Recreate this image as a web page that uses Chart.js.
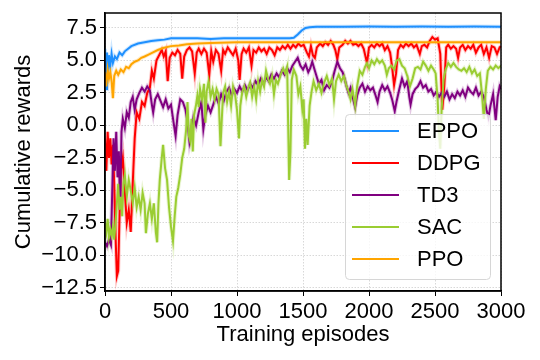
<!DOCTYPE html>
<html>
<head>
<meta charset="utf-8">
<script src="https://cdn.jsdelivr.net/npm/chart.js@4.4.1/dist/chart.umd.min.js"></script>
<style>
  html, body { margin: 0; padding: 0; background: #fff; }
</style>
</head>
<body>
<canvas id="myChart" width="540" height="360"></canvas>
<script>
// valores (episódio, recompensa acumulada)
const eppoEp = [0, 8, 15, 22, 30, 40, 50, 60, 75, 90, 110, 130, 150, 175, 200, 250, 300, 350, 400, 450, 500, 600, 700, 800, 900, 1000, 1100, 1200, 1300, 1400, 1430, 1460, 1490, 1520, 1550, 1600, 1800, 2000, 2200, 2400, 2600, 2800, 3000];
const eppo   = [5.9, 2.8, 5.6, 4.0, 5.4, 4.6, 5.5, 4.8, 5.3, 5.1, 5.6, 5.4, 5.7, 5.9, 6.1, 6.3, 6.4, 6.5, 6.55, 6.6, 6.7, 6.7, 6.7, 6.65, 6.7, 6.7, 6.7, 6.7, 6.7, 6.7, 6.75, 7.0, 7.3, 7.5, 7.55, 7.6, 7.6, 7.62, 7.6, 7.62, 7.6, 7.62, 7.6];

const ddpgEp = [0, 10, 20, 30, 40, 50, 60, 70, 80, 90, 100, 110, 120, 135, 150, 165, 180, 195, 210, 225, 240, 260, 280, 300, 320, 340, 355, 370, 390, 410, 430, 445, 460, 475, 490, 510, 530, 550, 570, 585, 600, 620, 640, 660, 680, 695, 710, 730, 750, 770, 790, 805, 820, 840, 860, 880, 895, 910, 930, 950, 970, 990, 1010, 1020, 1035, 1050, 1070, 1090, 1110, 1125, 1145, 1165, 1185, 1205, 1225, 1245, 1265, 1285, 1305, 1325, 1345, 1365, 1385, 1405, 1425, 1445, 1465, 1485, 1505, 1530, 1545, 1560, 1575, 1590, 1605, 1630, 1650, 1670, 1690, 1710, 1730, 1745, 1760, 1775, 1800, 1820, 1840, 1860, 1880, 1900, 1920, 1940, 1960, 1985, 2000, 2020, 2040, 2060, 2080, 2100, 2120, 2140, 2160, 2175, 2190, 2205, 2220, 2240, 2260, 2280, 2300, 2320, 2340, 2360, 2385, 2400, 2420, 2440, 2460, 2480, 2500, 2520, 2540, 2555, 2570, 2585, 2600, 2620, 2640, 2660, 2675, 2690, 2710, 2730, 2750, 2770, 2790, 2810, 2830, 2850, 2870, 2890, 2910, 2930, 2950, 2970, 2990, 3000];
const ddpg   = [-1.0, -3.5, -0.5, -2.5, -1.0, -3.0, -1.5, -4.5, -8.5, -11.6, -11.2, -7.0, -3.5, -2.5, -5.0, -7.5, -6.5, -8.2, -4.5, -1.0, 1.0, 0.5, 1.8, 1.5, 2.5, 2.9, 4.2, 3.6, 5.0, 5.4, 5.8, 5.3, 5.7, 3.4, 5.2, 5.6, 5.4, 5.8, 5.5, 3.6, 5.3, 5.8, 6.0, 5.7, 4.0, 5.6, 5.9, 5.5, 5.9, 5.6, 3.9, 5.7, 4.9, 5.8, 5.5, 4.2, 5.8, 5.5, 6.0, 5.7, 5.4, 5.9, 5.0, 3.5, 5.5, 5.9, 5.6, 6.0, 4.6, 5.8, 5.6, 6.0, 5.7, 5.9, 5.5, 6.0, 5.8, 5.4, 6.0, 5.8, 6.1, 5.9, 6.2, 5.9, 6.2, 6.0, 6.3, 6.1, 6.2, 5.6, 5.3, 6.1, 5.4, 5.2, 6.0, 6.3, 6.1, 6.4, 6.2, 6.5, 6.2, 5.8, 5.1, 6.0, 6.2, 6.5, 6.3, 6.5, 6.2, 6.3, 6.1, 6.3, 5.9, 4.8, 6.0, 6.2, 6.0, 6.3, 6.1, 6.3, 5.8, 6.1, 5.6, 4.5, 3.1, 4.0, 5.8, 6.2, 6.0, 6.3, 6.1, 6.3, 6.0, 6.2, 5.5, 6.1, 6.2, 6.0, 6.5, 6.8, 6.6, 6.7, 5.5, 1.2, 3.0, 6.0, 6.2, 5.9, 6.1, 5.9, 5.2, 6.0, 6.2, 5.8, 6.1, 5.9, 6.2, 5.6, 6.0, 6.2, 5.5, 6.0, 5.2, 6.1, 6.0, 5.5, 6.0, 6.1];

const td3Ep = [0, 15, 30, 45, 55, 65, 75, 85, 95, 105, 115, 125, 135, 150, 165, 180, 195, 210, 225, 240, 260, 280, 300, 320, 340, 355, 365, 380, 400, 420, 440, 460, 480, 500, 520, 535, 550, 570, 590, 610, 625, 640, 655, 670, 690, 710, 730, 745, 760, 780, 800, 820, 840, 860, 880, 900, 920, 940, 960, 980, 1000, 1020, 1040, 1060, 1080, 1100, 1120, 1140, 1160, 1180, 1200, 1220, 1240, 1260, 1280, 1300, 1320, 1340, 1360, 1380, 1400, 1420, 1440, 1460, 1480, 1500, 1520, 1540, 1555, 1570, 1590, 1605, 1620, 1640, 1660, 1680, 1700, 1720, 1740, 1760, 1780, 1800, 1815, 1830, 1845, 1860, 1880, 1895, 1910, 1930, 1950, 1970, 1990, 2010, 2030, 2050, 2065, 2080, 2100, 2120, 2140, 2160, 2175, 2195, 2210, 2230, 2250, 2270, 2290, 2305, 2315, 2330, 2350, 2370, 2390, 2410, 2430, 2450, 2470, 2490, 2510, 2530, 2550, 2570, 2590, 2610, 2630, 2650, 2670, 2690, 2710, 2730, 2750, 2770, 2790, 2810, 2830, 2850, 2870, 2890, 2905, 2920, 2940, 2960, 2975, 2990, 3000];
const td3   = [-9.0, -9.3, -8.8, -9.2, -5.0, -1.0, -3.5, -0.5, -4.0, -2.0, -6.5, -0.5, 0.5, -0.2, 1.0, 0.6, 1.8, 2.2, 1.2, 2.0, 2.5, 2.9, 2.6, 3.0, 2.7, 1.6, 1.0, 2.0, 2.4, 1.9, 1.4, 2.0, 1.3, 1.6, 0.2, -0.8, 0.8, 2.0, 1.8, 1.2, 0.3, -1.3, -0.5, 0.6, 0.0, 1.0, 1.8, -0.3, 0.8, 1.5, 1.0, 1.6, 2.2, 1.7, 2.4, 1.9, 2.6, 2.9, 2.3, 2.8, 2.5, 3.0, 2.6, 3.1, 2.7, 3.2, 2.9, 3.4, 3.1, 3.6, 3.2, 3.7, 3.4, 3.9, 3.6, 4.0, 3.7, 4.2, 3.9, 4.4, 4.1, 4.6, 4.9, 5.2, 4.6, 4.3, 4.7, 4.1, 4.4, 4.9, 4.2, 3.7, 3.2, 3.5, 2.7, 3.1, 2.9, 3.4, 4.2, 4.9, 4.4, 4.1, 3.6, 3.0, 2.5, 2.9, 2.0, 1.4, 2.3, 2.9, 3.2, 2.6, 3.0, 2.7, 2.9, 2.3, 1.8, 2.6, 3.1, 2.7, 3.0, 2.5, 2.0, 1.1, 1.9, 2.8, 3.6, 3.0, 3.4, 2.2, 1.6, 2.4, 2.8, 3.0, 3.4, 2.9, 3.1, 2.6, 2.8, 2.3, 2.6, 2.2, 2.5, 2.2, 2.6, 2.0, 2.4, 2.1, 2.6, 2.3, 2.7, 2.2, 2.9, 2.6, 2.4, 2.9, 2.3, 2.6, 2.2, 1.2, 0.6, 1.5, 2.4, 0.4, 2.2, 3.0, 2.8];

const sacEp = [0, 10, 20, 30, 40, 50, 60, 70, 80, 90, 100, 110, 120, 130, 140, 150, 165, 180, 195, 210, 225, 240, 255, 270, 285, 300, 310, 325, 340, 355, 370, 385, 395, 405, 415, 430, 440, 455, 470, 485, 500, 515, 528, 540, 555, 570, 585, 600, 615, 625, 635, 645, 655, 665, 675, 690, 700, 710, 720, 735, 750, 760, 770, 785, 800, 815, 830, 845, 860, 875, 885, 895, 910, 925, 940, 955, 970, 985, 1000, 1015, 1025, 1040, 1055, 1070, 1085, 1100, 1115, 1130, 1145, 1160, 1175, 1190, 1205, 1220, 1235, 1250, 1265, 1280, 1295, 1310, 1330, 1350, 1365, 1380, 1395, 1405, 1415, 1430, 1450, 1465, 1480, 1495, 1505, 1515, 1525, 1535, 1550, 1565, 1580, 1600, 1620, 1640, 1660, 1680, 1700, 1720, 1735, 1750, 1770, 1790, 1810, 1830, 1845, 1860, 1875, 1895, 1910, 1930, 1950, 1970, 1985, 2000, 2020, 2040, 2060, 2080, 2100, 2120, 2135, 2150, 2170, 2190, 2210, 2230, 2250, 2270, 2290, 2310, 2330, 2350, 2370, 2390, 2410, 2430, 2450, 2470, 2490, 2505, 2520, 2530, 2540, 2550, 2565, 2580, 2600, 2620, 2640, 2660, 2680, 2700, 2720, 2740, 2760, 2780, 2800, 2820, 2840, 2855, 2870, 2885, 2900, 2920, 2940, 2960, 2980, 3000];
const sac   = [-7.5, -8.2, -7.2, -8.6, -8.0, -8.5, -7.8, -8.8, -7.5, -6.0, -4.5, -6.5, -5.5, -7.0, -4.5, -3.8, -5.5, -4.2, -5.0, -6.0, -4.8, -6.3, -5.5, -6.5, -5.2, -6.0, -8.3, -6.8, -6.0, -7.2, -6.0, -8.2, -9.0, -6.0, -4.2, -2.5, -1.5, -3.3, -4.2, -6.3, -7.8, -8.9, -7.0, -5.5, -4.8, -3.8, -2.5, -1.8, -0.3, 1.8, -0.8, -1.2, 0.5, -2.0, 0.8, 1.6, 2.3, 1.4, 2.8, 2.0, 3.2, 0.2, 2.6, 3.4, 2.2, 2.8, 2.0, 2.8, 2.4, -1.6, 0.5, 2.5, 3.0, 1.8, 2.6, 1.5, 3.0, 2.4, 1.2, -1.0, 1.5, 2.6, 3.0, 2.2, 2.9, 3.3, 2.2, 3.0, 2.0, 3.4, 2.6, 3.5, 3.0, 4.2, 3.6, 3.2, 3.8, 2.4, 3.5, 3.2, 3.9, 4.4, 4.0, 4.5, -4.2, -2.0, 3.5, 4.3, 3.8, 2.4, 3.0, 1.2, 2.0, -1.8, 0.5, -1.5, 1.5, 2.6, 3.4, 2.7, 3.2, 2.5, 3.3, 3.8, 3.1, 3.6, 2.0, 3.4, 3.9, 3.4, 3.8, 3.0, 2.6, 2.0, 2.8, 1.5, 3.0, 4.2, 3.9, 4.5, 4.8, 4.4, 5.0, 4.7, 5.1, 4.8, 5.0, 4.6, 3.9, 4.4, 4.6, 4.3, 5.0, 5.1, 4.6, 4.4, 3.8, 3.0, 3.6, 4.4, 4.5, 4.3, 4.9, 4.6, 4.2, 4.6, 4.3, 4.0, 2.0, -0.5, -1.8, 1.2, 3.5, 4.3, 4.8, 4.5, 4.8, 4.5, 4.3, 4.2, 4.4, 4.1, 4.5, 4.0, 4.3, 3.8, 4.0, 2.5, 0.5, 2.8, 4.2, 4.5, 4.3, 4.6, 4.4, 4.6];

const ppoEp = [0, 10, 20, 30, 40, 50, 60, 70, 85, 100, 120, 140, 160, 180, 200, 225, 250, 275, 300, 330, 360, 400, 440, 500, 560, 620, 700, 800, 1000, 1500, 2000, 2500, 3000];
const ppo   = [4.1, 3.0, 4.3, 3.6, 4.1, 3.4, 2.1, 3.8, 4.2, 3.9, 4.3, 4.1, 4.5, 4.4, 4.7, 4.9, 5.0, 5.2, 5.3, 5.45, 5.6, 5.8, 5.95, 6.1, 6.15, 6.25, 6.3, 6.35, 6.4, 6.4, 6.4, 6.4, 6.4];

const names  = ['EPPO', 'DDPG', 'TD3', 'SAC', 'PPO'];
const cores  = ['#1e90ff', '#ff0000', '#800080', '#9acd32', '#ffa500'];
const xTicks = [0, 500, 1000, 1500, 2000, 2500, 3000];
const yTicks = [-12.5, -10, -7.5, -5, -2.5, 0, 2.5, 5, 7.5];

const series = [[eppoEp, eppo], [ddpgEp, ddpg], [td3Ep, td3], [sacEp, sac], [ppoEp, ppo]];

function pontos(ep, val) {
  return ep.map((e, i) => ({ x: e, y: val[i] }));
}

function clara(hex, a) {
  const n = parseInt(hex.slice(1), 16);
  return 'rgba(' + (n >> 16) + ',' + ((n >> 8) & 255) + ',' + (n & 255) + ',' + a + ')';
}

const datasets = [];
series.forEach((s, i) => {
  // linha principal
  datasets.push({
    label: names[i],
    data: pontos(s[0], s[1]),
    borderColor: cores[i],
    borderWidth: 2,
    pointRadius: 0,
    tension: 0,
    clip: 0,
    order: 10 - i
  });
  // sombra clara por baixo
  datasets.push({
    label: '',
    data: pontos(s[0], s[1]),
    borderColor: clara(cores[i], 0.22),
    borderWidth: 4,
    pointRadius: 0,
    tension: 0,
    clip: 0,
    order: 20 - i
  });
});

// moldura e legenda desenhadas à mão
const moldura = {
  id: 'moldura',
  afterDatasetsDraw(chart) {
    const ctx = chart.ctx;
    const a = chart.chartArea;
    const w = 145, h = 165;
    const bx = a.right - 11 - w, by = a.bottom - 12 - h;
    ctx.save();
    ctx.beginPath();
    ctx.roundRect(bx + 0.5, by + 0.5, w, h, 4);
    ctx.fillStyle = 'rgba(255,255,255,0.8)';
    ctx.fill();
    ctx.strokeStyle = '#d6d6d6';
    ctx.lineWidth = 1;
    ctx.stroke();
    ctx.font = '22px "Liberation Sans", Arial, sans-serif';
    ctx.textBaseline = 'middle';
    ctx.fillStyle = '#000';
    names.forEach((n, i) => {
      const y = by + 17 + i * 32;
      ctx.beginPath();
      ctx.moveTo(bx + 7, y);
      ctx.lineTo(bx + 54, y);
      ctx.strokeStyle = cores[i];
      ctx.lineWidth = 2;
      ctx.stroke();
      ctx.fillText(n, bx + 72, y + 1);
    });
    ctx.restore();
  },
  afterDraw(chart) {
    const ctx = chart.ctx;
    const a = chart.chartArea;
    ctx.save();
    ctx.strokeStyle = '#000';
    ctx.lineWidth = 1.5;
    ctx.strokeRect(a.left, a.top, a.right - a.left, a.bottom - a.top);
    ctx.restore();
  }
};

Chart.defaults.font.family = '"Liberation Sans", Arial, sans-serif';
Chart.defaults.font.size = 22;
Chart.defaults.color = '#000';

const grafico = document.getElementById('myChart');
new Chart(grafico, {
  type: 'line',
  data: { datasets: datasets },
  plugins: [moldura],
  options: {
    responsive: false,
    animation: false,
    devicePixelRatio: 1,
    layout: { padding: { left: 7, top: 13, right: 39, bottom: 8 } },
    plugins: {
      legend: { display: false },
      tooltip: { enabled: false }
    },
    scales: {
      x: {
        type: 'linear',
        min: 0,
        max: 3000,
        afterBuildTicks: axis => { axis.ticks = xTicks.map(v => ({ value: v })); },
        afterFit: axis => { axis.height = 61; axis.paddingLeft = 0; axis.paddingRight = 0; },
        ticks: { callback: v => String(v), padding: 3, maxRotation: 0, autoSkip: false },
        grid: { color: 'rgba(190,190,190,0.6)', tickColor: '#000', tickLength: 5 },
        border: { color: '#000', width: 1.5, dash: [1.5, 1.5] },
        title: { display: true, text: 'Training episodes', padding: { top: 0, bottom: 4 } }
      },
      y: {
        type: 'linear',
        min: -12.75,
        max: 8.65,
        afterBuildTicks: axis => { axis.ticks = yTicks.map(v => ({ value: v })); },
        afterFit: axis => { axis.width = 98; axis.paddingTop = 0; axis.paddingBottom = 0; },
        ticks: {
          callback: v => (v < 0 ? '\u2212' : '') + Math.abs(v).toFixed(1),
          padding: 3,
          autoSkip: false
        },
        grid: { color: 'rgba(190,190,190,0.6)', tickColor: '#000', tickLength: 5 },
        border: { color: '#000', width: 1.5, dash: [1.5, 1.5] },
        title: { display: true, text: 'Cumulative rewards', padding: { top: 4, bottom: 0 } }
      }
    }
  }
});
</script>
</body>
</html>
